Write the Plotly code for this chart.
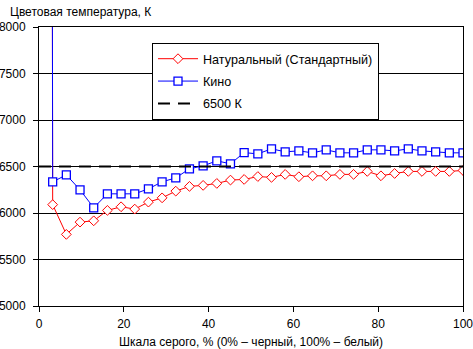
import plotly.graph_objects as go

n = 32
x_vals = [i * 100 / 31 for i in range(n)]

natural = [100000, 6090, 5770, 5902, 5916, 6028, 6067, 6042, 6117, 6163, 6235,
           6286, 6297, 6318, 6354, 6361, 6392, 6383, 6415, 6390, 6400, 6400,
           6415, 6415, 6447, 6400, 6425, 6447, 6447, 6447, 6447, 6458]
kino = [100000, 6335, 6410, 6249, 6056, 6206, 6206, 6206, 6260, 6335, 6378,
        6475, 6507, 6561, 6529, 6649, 6636, 6690, 6658, 6668, 6647, 6679,
        6647, 6647, 6679, 6679, 6668, 6690, 6668, 6658, 6647, 6647]
ref_x = [0, 100]
ref_y = [6500, 6500]

y_ticks = [5000, 5500, 6000, 6500, 7000, 7500, 8000]
x_ticks = [0, 20, 40, 60, 80, 100]

font = dict(family="Liberation Sans, Arial, sans-serif", size=12, color="black")
legend_font = dict(family="Liberation Sans, Arial, sans-serif", size=12.6, color="black")

fig = go.Figure()
fig.add_trace(go.Scatter(
    x=x_vals, y=natural, mode="lines+markers", name="Натуральный (Стандартный)",
    legendgroup="a",
    line=dict(color="#ff0000", width=1),
    marker=dict(symbol="diamond", size=7.5, color="white",
                line=dict(color="#ff0000", width=1)),
))
fig.add_trace(go.Scatter(
    x=x_vals, y=kino, mode="lines+markers", name="Кино",
    legendgroup="b",
    line=dict(color="#0000ff", width=1),
    marker=dict(symbol="square", size=8, color="white",
                line=dict(color="#0000ff", width=1.3)),
))
fig.add_trace(go.Scatter(
    x=ref_x, y=ref_y, mode="lines", name="6500 К",
    legendgroup="c",
    line=dict(color="black", width=2, dash="12px,8px"),
))

fig.update_layout(
    width=473, height=349,
    margin=dict(l=39, r=10, t=27, b=43),
    paper_bgcolor="white", plot_bgcolor="white",
    font=font,
    showlegend=True,
    legend=dict(
        x=(152 - 39) / 424, y=1 - (43 - 27) / 279,
        xanchor="left", yanchor="top",
        bgcolor="white", bordercolor="black", borderwidth=1,
        font=legend_font, tracegroupgap=3, traceorder="grouped",
        itemwidth=40,
    ),
    xaxis=dict(
        range=[0, 100], tickvals=x_ticks, ticks="outside", ticklen=5,
        tickcolor="black", showline=True, linecolor="black", linewidth=1,
        mirror=True, showgrid=False, zeroline=False, automargin=False,
        ticklabeloverflow="allow", ticklabelstandoff=2,
        title=dict(text="Шкала серого, % (0% – черный, 100% – белый)",
                   font=font, standoff=10),
    ),
    yaxis=dict(
        range=[5000, 8000], tickvals=y_ticks, ticks="outside", ticklen=5,
        tickcolor="black", showline=True, linecolor="black", linewidth=1,
        mirror=True, showgrid=True, gridcolor="black", gridwidth=1,
        zeroline=False, ticklabelstandoff=5, automargin=False,
        ticklabeloverflow="allow",
    ),
    annotations=[dict(
        text="Цветовая температура, К", xref="paper", yref="paper",
        x=0, y=1, xanchor="left", yanchor="bottom", xshift=-31, yshift=6,
        showarrow=False, font=font,
    )],
)

fig.write_html("out.html")
